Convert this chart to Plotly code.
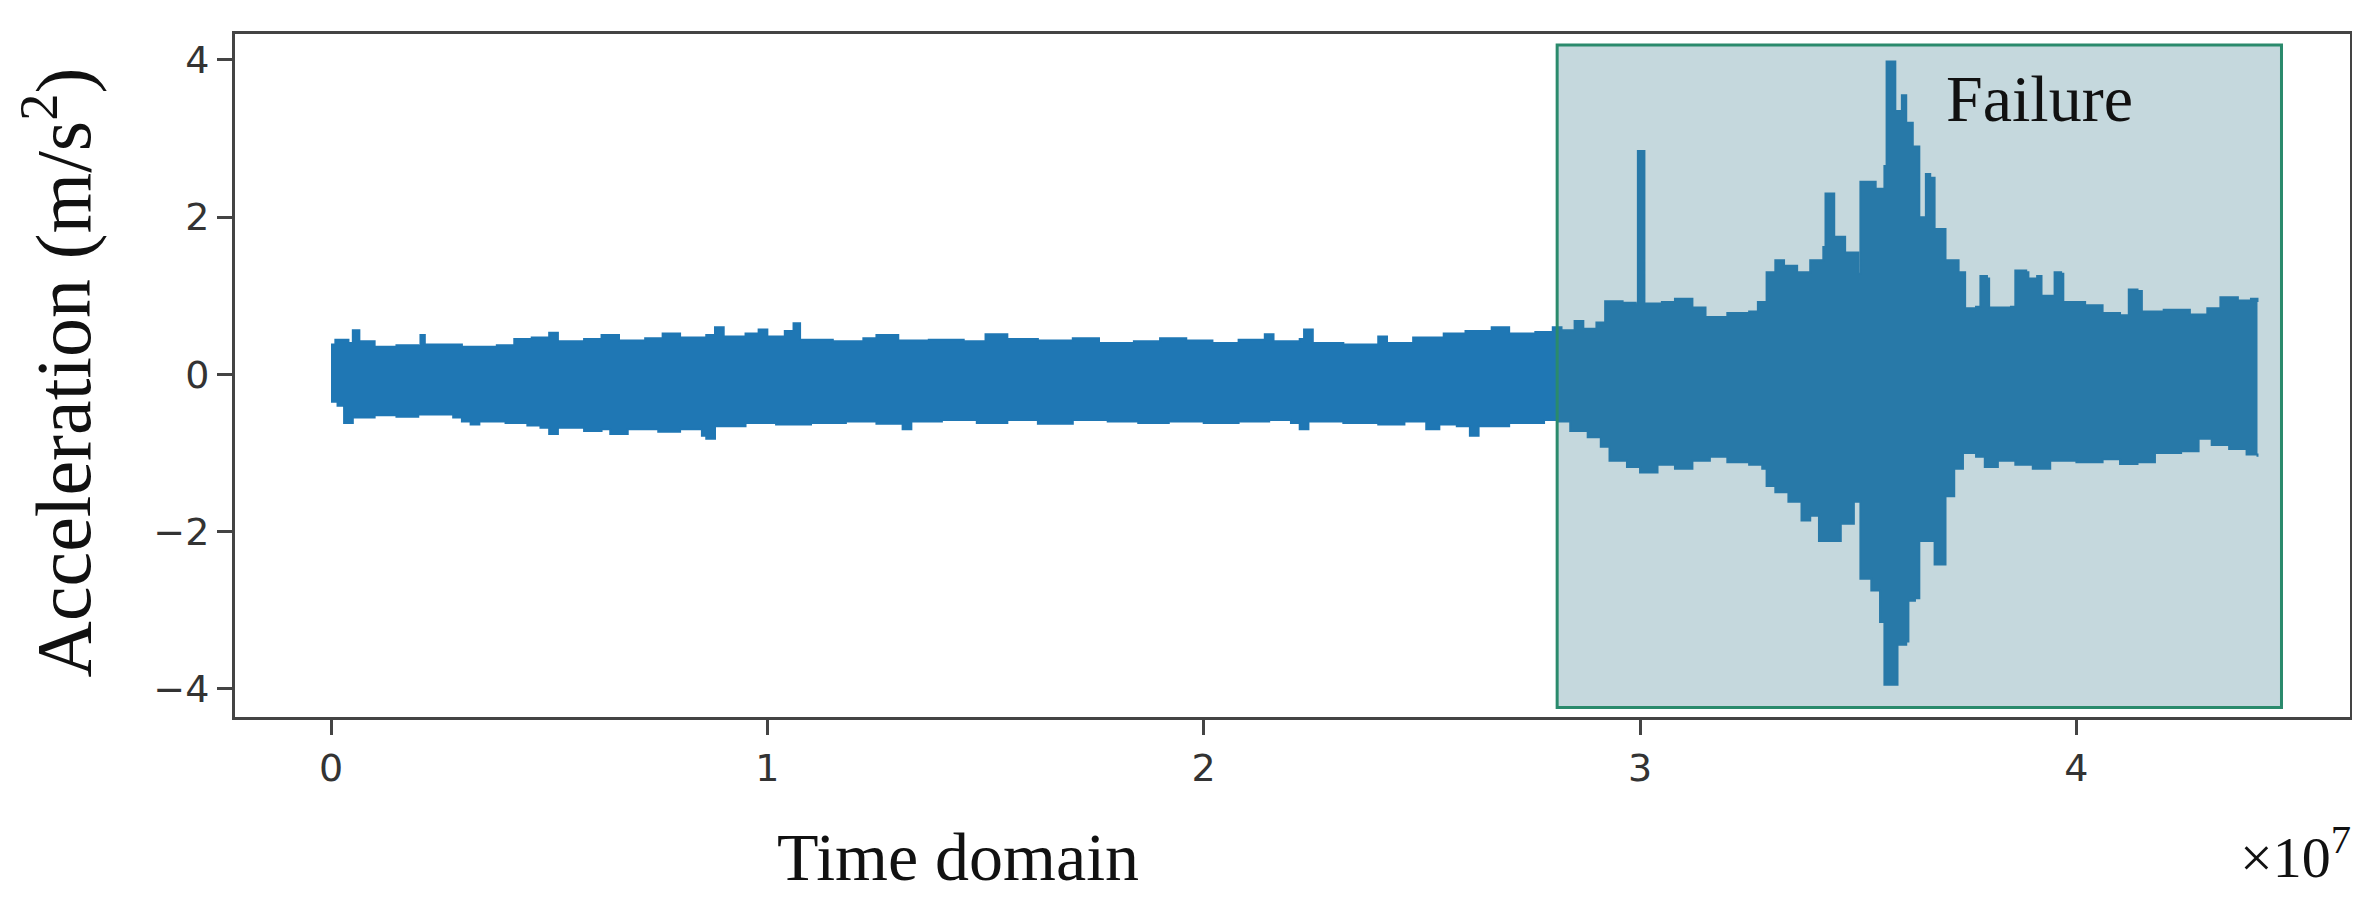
import plotly.graph_objects as go

BLUE = "#1f77b4"
BOX_LINE = "#2a8a6c"
BOX_FILL = "rgba(62,126,143,0.30)"

# time axis in units of 1e7 samples
UPPER_T = [0.000, 0.010, 0.040, 0.050, 0.065, 0.10, 0.15, 0.20, 0.205, 0.215,
           0.30, 0.38, 0.42, 0.46, 0.50, 0.52, 0.58, 0.62, 0.66, 0.72,
           0.76, 0.80, 0.86, 0.88, 0.90, 0.95, 0.98, 1.00, 1.04, 1.06,
           1.075, 1.15, 1.22, 1.25, 1.30, 1.37, 1.45, 1.50, 1.55, 1.62,
           1.70, 1.76, 1.84, 1.90, 1.96, 2.02, 2.08, 2.14, 2.16, 2.22,
           2.23, 2.25, 2.32, 2.40, 2.42, 2.48, 2.55, 2.60, 2.66, 2.70,
           2.76, 2.80, 2.82, 2.85, 2.87, 2.90, 2.92, 2.96, 2.99, 2.995,
           3.005, 3.01, 3.05, 3.08, 3.12, 3.15, 3.20, 3.25, 3.27, 3.29,
           3.31, 3.33, 3.36, 3.39, 3.42, 3.425, 3.44, 3.445, 3.47, 3.50,
           3.505, 3.54, 3.56, 3.565, 3.58, 3.585, 3.60, 3.61, 3.625, 3.64,
           3.655, 3.665, 3.675, 3.70, 3.73, 3.745, 3.77, 3.78, 3.795, 3.80,
           3.85, 3.86, 3.885, 3.89, 3.91, 3.92, 3.94, 3.95, 3.965, 3.97,
           4.02, 4.06, 4.10, 4.12, 4.14, 4.15, 4.20, 4.26, 4.30, 4.33,
           4.37, 4.40, 4.415]
UPPER_A = [0.38, 0.44, 0.40, 0.56, 0.42, 0.35, 0.37, 0.36, 0.50, 0.38,
           0.35, 0.37, 0.45, 0.47, 0.53, 0.42, 0.45, 0.50, 0.43, 0.46,
           0.52, 0.47, 0.50, 0.60, 0.48, 0.52, 0.57, 0.48, 0.55, 0.65,
           0.44, 0.42, 0.46, 0.50, 0.43, 0.44, 0.42, 0.51, 0.45, 0.43,
           0.46, 0.40, 0.42, 0.46, 0.43, 0.40, 0.44, 0.51, 0.42, 0.45,
           0.57, 0.40, 0.38, 0.48, 0.40, 0.47, 0.52, 0.55, 0.60, 0.52,
           0.54, 0.60, 0.56, 0.68, 0.58, 0.66, 0.93, 0.91, 0.89, 2.84,
           2.84, 0.90, 0.92, 0.96, 0.85, 0.73, 0.78, 0.80, 0.92, 1.30,
           1.45, 1.38, 1.30, 1.45, 1.62, 2.30, 2.30, 1.75, 1.55, 1.28,
           2.45, 2.36, 2.65, 3.98, 3.98, 3.35, 3.55, 3.20, 2.90, 2.00,
           2.55, 2.50, 1.85, 1.45, 1.30, 0.84, 0.86, 1.25, 1.22, 0.85,
           0.86, 1.32, 1.30, 1.22, 1.25, 1.00, 1.00, 1.30, 1.28, 0.92,
           0.88, 0.78, 0.75, 1.08, 1.06, 0.80, 0.82, 0.76, 0.84, 0.98,
           0.94, 0.96, 0.92]

LOWER_T = [0.000, 0.015, 0.030, 0.05, 0.10, 0.15, 0.20, 0.28, 0.30, 0.32,
           0.34, 0.40, 0.45, 0.48, 0.50, 0.52, 0.58, 0.62, 0.64, 0.68,
           0.75, 0.80, 0.85, 0.86, 0.88, 0.95, 1.02, 1.10, 1.18, 1.25,
           1.31, 1.33, 1.40, 1.48, 1.55, 1.62, 1.70, 1.78, 1.85, 1.92,
           2.00, 2.08, 2.15, 2.20, 2.22, 2.24, 2.32, 2.40, 2.46, 2.51,
           2.54, 2.58, 2.61, 2.63, 2.70, 2.78, 2.81, 2.84, 2.88, 2.91,
           2.93, 2.97, 3.00, 3.04, 3.08, 3.12, 3.16, 3.20, 3.25, 3.28,
           3.29, 3.31, 3.34, 3.37, 3.39, 3.41, 3.45, 3.46, 3.49, 3.505,
           3.53, 3.55, 3.56, 3.58, 3.59, 3.61, 3.615, 3.63, 3.64, 3.67,
           3.675, 3.69, 3.70, 3.72, 3.74, 3.77, 3.79, 3.82, 3.86, 3.90,
           3.94, 4.00, 4.06, 4.10, 4.14, 4.18, 4.24, 4.28, 4.31, 4.35,
           4.39, 4.415]
LOWER_A = [-0.35, -0.40, -0.62, -0.55, -0.52, -0.54, -0.51, -0.55, -0.60, -0.64,
           -0.60, -0.62, -0.65, -0.68, -0.76, -0.68, -0.72, -0.70, -0.76, -0.70,
           -0.73, -0.70, -0.78, -0.82, -0.66, -0.62, -0.64, -0.62, -0.60, -0.63,
           -0.70, -0.60, -0.58, -0.62, -0.58, -0.63, -0.58, -0.60, -0.62, -0.60,
           -0.62, -0.60, -0.58, -0.62, -0.70, -0.60, -0.62, -0.64, -0.60, -0.70,
           -0.64, -0.66, -0.78, -0.66, -0.62, -0.58, -0.60, -0.72, -0.80, -0.92,
           -1.10, -1.18, -1.25, -1.15, -1.20, -1.10, -1.05, -1.12, -1.15, -1.20,
           -1.42, -1.50, -1.62, -1.86, -1.80, -2.12, -2.12, -1.90, -1.62, -2.60,
           -2.75, -3.15, -3.95, -3.95, -3.44, -3.40, -2.88, -2.85, -2.12, -2.12,
           -2.42, -2.42, -1.55, -1.20, -1.00, -1.05, -1.18, -1.10, -1.15, -1.20,
           -1.10, -1.12, -1.08, -1.14, -1.12, -1.00, -0.98, -0.82, -0.90, -0.95,
           -1.02, -1.05]

X_TICKS = [0, 1, 2, 3, 4]
X_LABELS = ["0", "1", "2", "3", "4"]
Y_TICKS = [-4, -2, 0, 2, 4]
Y_LABELS = ["\u22124", "\u22122", "0", "2", "4"]

# highlighted failure window
FAIL_T = [2.81, 4.47]
FAIL_A = [-4.24, 4.19]

fig = go.Figure()
fig.add_trace(go.Scatter(
    x=LOWER_T, y=LOWER_A, mode="lines", line_shape="hv",
    line=dict(color=BLUE, width=2), showlegend=False, hoverinfo="skip"
))
fig.add_trace(go.Scatter(
    x=UPPER_T, y=UPPER_A, mode="lines", line_shape="hv",
    line=dict(color=BLUE, width=2), fill="tonexty", fillcolor=BLUE,
    showlegend=False, hoverinfo="skip"
))

fig.add_shape(type="rect", xref="x", yref="y",
              x0=FAIL_T[0], x1=FAIL_T[1], y0=FAIL_A[0], y1=FAIL_A[1],
              fillcolor=BOX_FILL, line=dict(color=BOX_LINE, width=3),
              layer="above")

serif = "Liberation Serif, Times New Roman, serif"
fig.add_annotation(text="Failure", xref="paper", yref="paper",
                   x=0.853, y=0.905, showarrow=False,
                   xanchor="center", yanchor="middle",
                   font=dict(family=serif, size=66, color="#111"))
fig.add_annotation(text="Acceleration (m/s<sup>2</sup>)", xref="paper", yref="paper",
                   x=-0.084, y=0.505, textangle=-90, showarrow=False,
                   xanchor="center", yanchor="middle",
                   font=dict(family=serif, size=78, color="#111"))
fig.add_annotation(text="Time domain", xref="paper", yref="paper",
                   x=0.342, y=-0.205, showarrow=False,
                   xanchor="center", yanchor="middle",
                   font=dict(family=serif, size=68, color="#111"))
fig.add_annotation(text="\u00d710<sup>7</sup>", xref="paper", yref="paper",
                   x=1.0015, y=-0.2, showarrow=False,
                   xanchor="right", yanchor="middle",
                   font=dict(family=serif, size=58, color="#111"))

axis_common = dict(showline=True, mirror=True, linecolor="#444", linewidth=3,
                   ticks="outside", ticklen=15, tickwidth=3, tickcolor="#444",
                   showgrid=False, zeroline=False,
                   tickfont=dict(family="DejaVu Sans", size=38, color="#333"))

fig.update_xaxes(range=[-0.22, 4.627], tickvals=X_TICKS, ticktext=X_LABELS,
                 **axis_common)
fig.update_yaxes(range=[-4.36, 4.33], tickvals=Y_TICKS, ticktext=Y_LABELS,
                 **axis_common)

fig.update_layout(
    width=2360, height=905,
    margin=dict(l=227, r=18, t=26, b=196),
    plot_bgcolor="white", paper_bgcolor="white",
    showlegend=False
)

fig.write_html("out.html")
